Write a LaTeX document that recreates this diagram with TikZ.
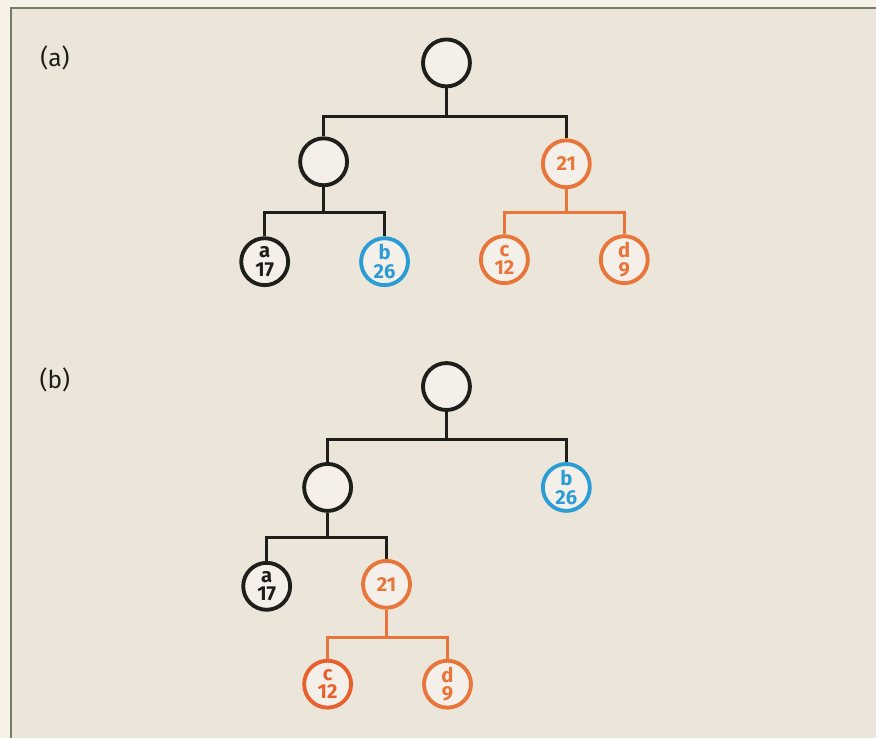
\documentclass[tikz,border=0pt]{standalone}
\usepackage{fontspec}
\setmainfont{Fira Sans}
\usepackage{xcolor}
\usetikzlibrary{calc}
\definecolor{paper}{HTML}{ECE6DA}
\definecolor{margincol}{HTML}{F6F1E6}
\definecolor{framecol}{HTML}{747D66}
\definecolor{inkcol}{HTML}{1E1E1A}
\definecolor{orangecol}{HTML}{E8753A}
\definecolor{redorange}{HTML}{E8602E}
\definecolor{bluecol}{HTML}{2C9CD4}
\definecolor{nodefill}{HTML}{F4F0E9}
\tikzset{
    treenode/.style={circle, draw, line width=2.2pt, fill=nodefill, minimum size=0.94cm, inner sep=0pt, align=center, font=\fontsize{11.5}{10.5}\selectfont\bfseries},
    blacknode/.style={treenode, draw=inkcol, text=inkcol},
    orangenode/.style={treenode, draw=orangecol, text=orangecol},
    rednode/.style={treenode, draw=redorange, text=redorange},
    bluenode/.style={treenode, draw=bluecol, text=bluecol},
    branch/.style={line width=1.8pt, draw=inkcol},
    orangebranch/.style={branch, draw=orangecol},
    panellabel/.style={font=\fontsize{14}{14}\selectfont, text=inkcol},
}

\begin{document}
\begin{tikzpicture}[x=0.02cm, y=-0.02cm]

% page and frame
\fill[margincol] (0,0) rectangle (877,739);
\fill[paper] (11,8) rectangle (877,739);
\draw[framecol, line width=1.2pt] (11,739) -- (11,8) -- (877,8);
\useasboundingbox (0,0) rectangle (877,739);

% ============================================================
% (a)
% ============================================================
\node[panellabel] (labelA) at (55,58) {(a)};

\node[blacknode] (rootA) at (447,63) {};
\node[blacknode] (midA) at (324,162) {};
\node[orangenode] (n21A) at (567,164) {21};
\node[blacknode] (aA) at (265,262) {a\\17};
\node[bluenode] (bA) at (385,262) {b\\26};
\node[orangenode] (cA) at (505,260) {c\\12};
\node[orangenode] (dA) at (625,260) {d\\9};

\coordinate (jA1) at (447,117);
\coordinate (jA2) at (324,213);
\coordinate (jA3) at (567,213);

\draw[branch] (rootA.south) -- (jA1);
\draw[branch] (midA.north) |- (jA1) -| (n21A.north);
\draw[branch] (midA.south) -- (jA2);
\draw[branch] (aA.north) |- (jA2) -| (bA.north);
\draw[orangebranch] (n21A.south) -- (jA3);
\draw[orangebranch] (cA.north) |- (jA3) -| (dA.north);

% ============================================================
% (b)
% ============================================================
\node[panellabel] (labelB) at (55,380) {(b)};

\node[blacknode] (rootB) at (447,387) {};
\node[blacknode] (midB) at (328,488) {};
\node[bluenode] (bB) at (567,488) {b\\26};
\node[blacknode] (aB) at (267,587) {a\\17};
\node[orangenode] (n21B) at (387,585) {21};
\node[rednode] (cB) at (328,685) {c\\12};
\node[orangenode] (dB) at (448,685) {d\\9};

\coordinate (jB1) at (447,440);
\coordinate (jB2) at (328,538);
\coordinate (jB3) at (387,638);

\draw[branch] (rootB.south) -- (jB1);
\draw[branch] (midB.north) |- (jB1) -| (bB.north);
\draw[branch] (midB.south) -- (jB2);
\draw[branch] (aB.north) |- (jB2) -| (n21B.north);
\draw[orangebranch] (n21B.south) -- (jB3);
\draw[orangebranch] (cB.north) |- (jB3) -| (dB.north);

\end{tikzpicture}
\end{document}
